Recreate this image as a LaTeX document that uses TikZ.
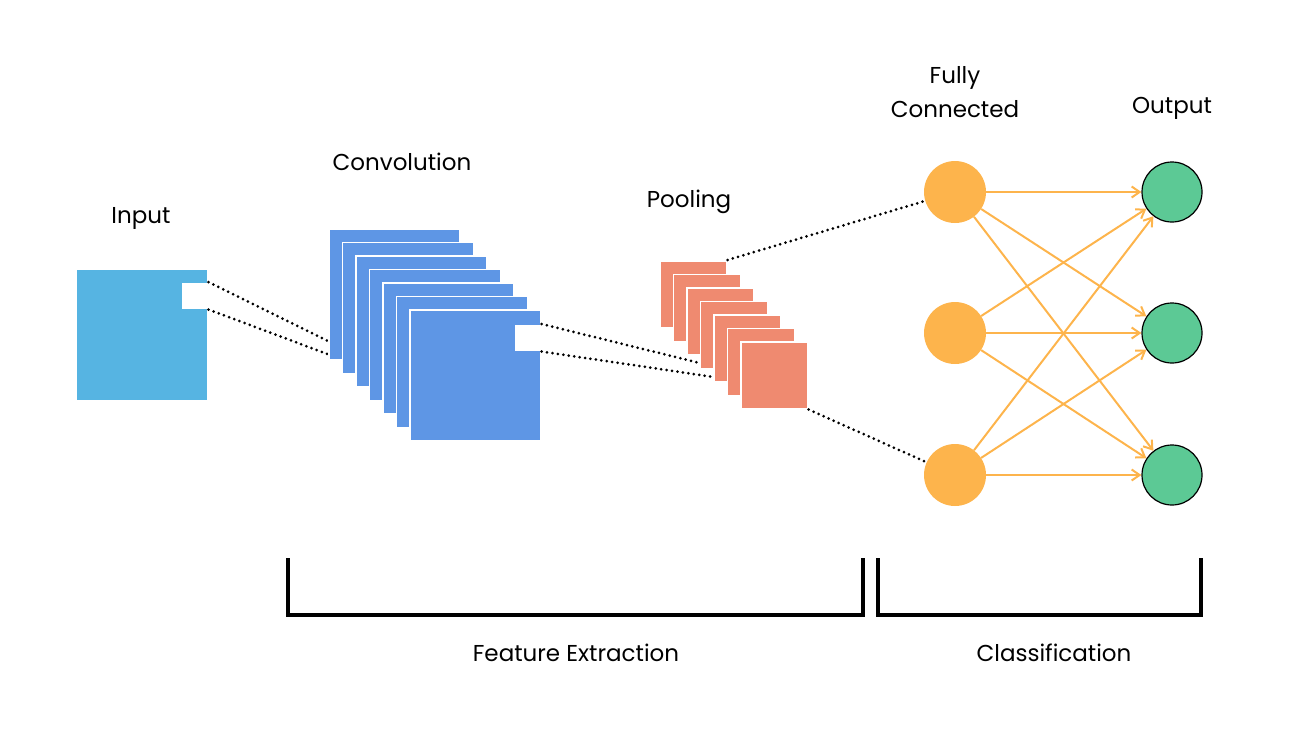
\documentclass[tikz,border=0pt]{standalone}
\usepackage{fontspec}
\setmainfont{Poppins}
\usetikzlibrary{arrows.meta}
\definecolor{inblue}{HTML}{56B4E2}
\definecolor{convblue}{HTML}{5E96E5}
\definecolor{poolred}{HTML}{EF8A70}
\definecolor{fcorange}{HTML}{FDB44C}
\definecolor{outgreen}{HTML}{5CC995}
\tikzset{
  lbl/.style={font=\fontsize{23}{34}\selectfont, align=center},
  map/.style={draw=white, line width=1.5pt, minimum size=#1, inner sep=0, anchor=north west},
  dots/.style={line width=3pt, dash pattern=on 0pt off 5.5pt, line cap=round},
  fcn/.style={circle, fill=fcorange, minimum size=62pt, inner sep=0},
  outn/.style={circle, fill=outgreen, draw=black, line width=1.2pt, minimum size=60pt, inner sep=0},
  link/.style={draw=fcorange, line width=2pt, -{Straight Barb[length=8pt,width=11pt]}},
  brace/.style={line width=4pt}
}
\begin{document}
\begin{tikzpicture}[x=1pt,y=-1pt]
\useasboundingbox (0,0) rectangle (1305,734);
% input
\node[map=132pt, fill=inblue] (in) at (75,268) {};
\node[map=26pt, fill=white, draw=none] (inp) at (181,282) {};
\coordinate (cl1) at (330,342);
\coordinate (cl2) at (330,355);
\draw[dots] (inp.north east) -- (cl1);
\draw[dots] (inp.south east) -- (cl2);
% convolution stack
\foreach \i in {0,...,6}
  \node[map=131pt, fill=convblue] (c\i) at (328+13.5*\i,228+13.5*\i) {};
\node[map=26pt, fill=white, draw=none] (cp) at (514,324) {};
% pooling stack
\coordinate (pl1) at (712,366);
\coordinate (pl2) at (720,378);
\draw[dots] (cp.north east) -- (pl1);
\draw[dots] (cp.south east) -- (pl2);
\foreach \i in {0,...,6}
  \node[map=67pt, fill=poolred] (p\i) at (659+13.5*\i,260+13.5*\i) {};
% neurons
\foreach \j/\y in {1/192,2/333,3/475} {
  \node[fcn] (f\j) at (955,\y) {};
  \node[outn] (o\j) at (1172,\y) {};
}
\draw[dots] (p0.north east) -- (f1);
\draw[dots] (p6.south east) -- (f3);
\foreach \a in {1,2,3}
  \foreach \b in {1,2,3}
    \draw[link] (f\a) -- (o\b);
% labels
\node[lbl] (tin) at (141,218) {Input};
\node[lbl] (tconv) at (402,162) {Convolution};
\node[lbl] (tpool) at (689,202) {Pooling};
\node[lbl] (tfc) at (955,92) {Fully\\Connected};
\node[lbl] (tout) at (1172,108) {Output};
% brackets
\coordinate (b1) at (288,558);
\coordinate (b2) at (863,558);
\coordinate (b3) at (878,558);
\coordinate (b4) at (1201,558);
\draw[brace] (b1) -- ++(0,57) -| (b2);
\draw[brace] (b3) -- ++(0,57) -| (b4);
\node[lbl] (tfe) at (576,653) {Feature Extraction};
\node[lbl] (tcl) at (1054,653) {Classification};
\end{tikzpicture}
\end{document}
